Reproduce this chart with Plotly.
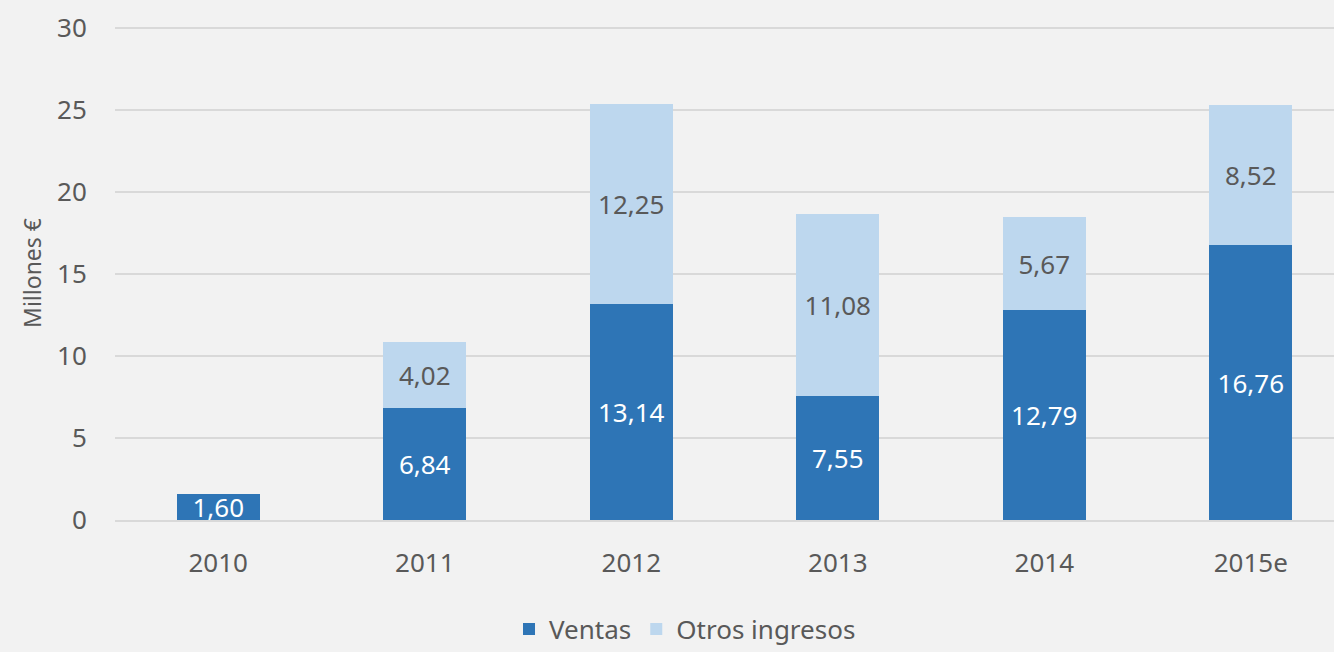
import plotly.graph_objects as go

years = ["2010", "2011", "2012", "2013", "2014", "2015e"]
ventas = [1.60, 6.84, 13.14, 7.55, 12.79, 16.76]
otros = [None, 4.02, 12.25, 11.08, 5.67, 8.52]

dark = "#2E75B6"
light = "#BDD7EE"
txt = "#595959"
font = "Noto Sans"

fig = go.Figure()
fig.add_trace(go.Bar(
    x=years, y=ventas, name="Ventas", marker=dict(color=dark, line=dict(width=0)),
    texttemplate="%{y:.2f}", textposition="inside", insidetextanchor="middle",
    constraintext="none", textangle=0,
    textfont=dict(color="white", size=26, family=font), width=0.4,
))
fig.add_trace(go.Bar(
    x=years, y=otros, name="Otros ingresos", marker=dict(color=light, line=dict(width=0)),
    texttemplate="%{y:.2f}", textposition="inside", insidetextanchor="middle",
    constraintext="none", textangle=0,
    textfont=dict(color=txt, size=26, family=font), width=0.4,
))

fig.update_layout(
    barmode="stack",
    separators=",.",
    width=1334, height=652,
    margin=dict(l=115, r=0, t=26, b=132, autoexpand=False),
    paper_bgcolor="#F2F2F2",
    plot_bgcolor="rgba(0,0,0,0)",
    font=dict(family=font, color=txt, size=26),
    legend=dict(orientation="h", x=0.4676, xanchor="center", y=-0.221, yanchor="middle",
                font=dict(size=26, color=txt), traceorder="normal",
                itemwidth=30, bgcolor="rgba(0,0,0,0)"),
    showlegend=True,
)
fig.update_xaxes(
    range=[-0.5, 5.403], showgrid=False, showline=True, linecolor="#D9D9D9", linewidth=2,
    ticks="outside", ticklen=19, tickcolor="rgba(0,0,0,0)", automargin=False,
    tickfont=dict(size=26, color=txt, family=font),
)
fig.update_yaxes(
    range=[0, 30.12], tickvals=[0, 5, 10, 15, 20, 25, 30], showgrid=True, gridcolor="#D9D9D9", gridwidth=1.5,
    zeroline=False, showline=False, automargin=False,
    ticks="outside", ticklen=22, tickcolor="rgba(0,0,0,0)",
    tickfont=dict(size=26, color=txt, family=font),
    title=dict(text="Millones €", font=dict(size=23, color=txt, family=font), standoff=8),
)

fig.write_html("out.html", config={"displayModeBar": False},
               post_script="document.body.style.margin='0';document.body.style.overflow='hidden';")
